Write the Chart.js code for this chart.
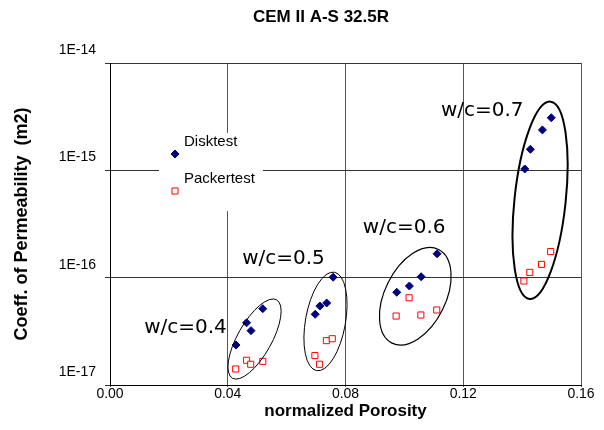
<!DOCTYPE html>
<html>
<head>
<meta charset="utf-8">
<script src="https://cdn.jsdelivr.net/npm/chart.js@4.4.0/dist/chart.umd.min.js"></script>
<style>
  html, body { margin: 0; padding: 0; background: #fff; }
  #wrap { width: 604px; height: 430px; }
</style>
</head>
<body>
<div id="wrap"><canvas id="chart1"></canvas></div>
<script>
"use strict";

// normalized porosity / permeability (m2), four w/c groups of 4 samples
var diskPorosity = [0.0428, 0.0464, 0.0479, 0.0519, 0.0697, 0.0713, 0.0736, 0.0758,
                    0.0974, 0.1017, 0.1057, 0.1111, 0.1409, 0.1428, 0.1469, 0.1499];
var diskPerm = [2.36e-17, 3.80e-17, 3.21e-17, 5.14e-17, 4.56e-17, 5.44e-17, 5.81e-17, 1.01e-16,
                7.31e-17, 8.36e-17, 1.02e-16, 1.67e-16, 1.03e-15, 1.57e-15, 2.38e-15, 3.09e-15];
var packerPorosity = [0.0427, 0.0464, 0.0478, 0.0519, 0.0696, 0.0712, 0.0735, 0.0755,
                      0.0972, 0.1016, 0.1056, 0.1110, 0.1406, 0.1426, 0.1466, 0.1497];
var packerPerm = [1.41e-17, 1.70e-17, 1.56e-17, 1.66e-17, 1.88e-17, 1.56e-17, 2.59e-17, 2.70e-17,
                  4.39e-17, 6.50e-17, 4.49e-17, 5.00e-17, 9.31e-17, 1.12e-16, 1.33e-16, 1.75e-16];

var groupLabels = ['w/c=0.4', 'w/c=0.5', 'w/c=0.6', 'w/c=0.7'];
var yTicks = [1e-17, 1e-16, 1e-15, 1e-14];
var xTicks = [0.00, 0.04, 0.08, 0.12, 0.16];

function toPoints(xs, ys) {
  var pts = [];
  for (var i = 0; i < xs.length; i++) {
    pts.push({ x: xs[i], y: ys[i] });
  }
  return pts;
}

var FONT = "'Liberation Sans', Arial, sans-serif";

// ellipses round each group (centre in data units, radii in px, tilt in deg)
var ellipses = [
  { cx: 0.0491, cy: 2.68e-17, rx: 17, ry: 45, rot: 29.4, lw: 1 },
  { cx: 0.0732, cy: 3.91e-17, rx: 20, ry: 50, rot: 10.2, lw: 1 },
  { cx: 0.1037, cy: 6.71e-17, rx: 30.4, ry: 52.3, rot: 26.4, lw: 1.2 },
  { cx: 0.1461, cy: 5.26e-16, rx: 25.6, ry: 99.2, rot: 6.1, lw: 2 }
];
var labelPos = [
  { x: 0.0116, y: 3.40e-17 },
  { x: 0.0449, y: 1.515e-16 },
  { x: 0.0859, y: 2.90e-16 },
  { x: 0.1124, y: 3.57e-15 }
];

var extras = {
  id: 'extras',
  beforeDatasetsDraw: function(chart) {
    // legend inside the plot, white box over the grid
    var ctx = chart.ctx, a = chart.chartArea;
    var bx = a.left + 49, by = a.top + 70;
    ctx.save();
    ctx.fillStyle = '#fff';
    ctx.fillRect(bx, by, 104, 78);
    ctx.font = '15px ' + FONT;
    ctx.textBaseline = 'middle';
    chart.data.datasets.forEach(function(ds, i) {
      var mx = bx + 16, my = by + 21 + i * 37;
      ctx.fillStyle = ds.backgroundColor;
      ctx.strokeStyle = ds.borderColor;
      ctx.lineWidth = ds.borderWidth;
      ctx.beginPath();
      if (ds.pointStyle === 'rectRot') {
        var r = ds.pointRadius;
        ctx.moveTo(mx - r, my); ctx.lineTo(mx, my - r);
        ctx.lineTo(mx + r, my); ctx.lineTo(mx, my + r);
        ctx.closePath();
      } else {
        var s = ds.pointRadius * Math.SQRT1_2;
        ctx.rect(mx - s, my - s, 2 * s, 2 * s);
      }
      ctx.fill();
      ctx.stroke();
      ctx.fillStyle = '#000';
      ctx.fillText(ds.label, bx + 25, my - 12);
    });
    ctx.restore();
  },
  afterDatasetsDraw: function(chart) {
    var ctx = chart.ctx;
    var xs = chart.scales.x, ys = chart.scales.y;
    ctx.save();
    ctx.strokeStyle = '#000';
    ellipses.forEach(function(e) {
      ctx.lineWidth = e.lw;
      ctx.beginPath();
      ctx.ellipse(xs.getPixelForValue(e.cx), ys.getPixelForValue(e.cy),
        e.rx, e.ry, e.rot * Math.PI / 180, 0, 2 * Math.PI);
      ctx.stroke();
    });
    ctx.font = "20px 'DejaVu Sans', sans-serif";
    ctx.fillStyle = '#000';
    ctx.textBaseline = 'middle';
    ctx.textAlign = 'left';
    groupLabels.forEach(function(t, i) {
      ctx.fillText(t, xs.getPixelForValue(labelPos[i].x), ys.getPixelForValue(labelPos[i].y));
    });
    ctx.restore();
  },
  afterDraw: function(chart) {
    var ctx = chart.ctx;
    ctx.save();
    ctx.font = 'bold 17px ' + FONT;
    ctx.fillStyle = '#000';
    ctx.textAlign = 'center';
    ctx.textBaseline = 'middle';
    ctx.fillText('CEM II A-S 32.5R', 321, 17);
    ctx.restore();
  }
};

var ctx = document.getElementById('chart1').getContext('2d');
new Chart(ctx, {
  type: 'scatter',
  data: {
    datasets: [{
      label: 'Disktest',
      data: toPoints(diskPorosity, diskPerm),
      pointStyle: 'rectRot',
      pointRadius: 4,
      pointHoverRadius: 4,
      backgroundColor: '#000080',
      borderColor: '#000080',
      borderWidth: 1
    }, {
      label: 'Packertest',
      data: toPoints(packerPorosity, packerPerm),
      pointStyle: 'rect',
      pointRadius: 4.3,
      pointHoverRadius: 4.3,
      backgroundColor: '#ffffff',
      borderColor: '#ff0000',
      borderWidth: 1
    }]
  },
  options: {
    responsive: true,
    maintainAspectRatio: false,
    animation: false,
    layout: {
      padding: { left: 0, right: 23, top: 63, bottom: 0 }
    },
    plugins: {
      legend: { display: false },
      title: { display: false },
      tooltip: { enabled: false }
    },
    scales: {
      x: {
        type: 'linear',
        min: 0,
        max: 0.16,
        afterBuildTicks: function(scale) {
          scale.ticks = xTicks.map(function(v) { return { value: v }; });
        },
        afterFit: function(scale) { scale.height = 45; },
        ticks: {
          color: '#000',
          font: { family: FONT, size: 14, lineHeight: 1 },
          padding: 0,
          maxRotation: 0,
          callback: function(v) { return Number(v).toFixed(2); }
        },
        grid: { color: '#555', lineWidth: 1, tickLength: 2, tickColor: '#555' },
        border: { color: '#000', width: 1 },
        title: {
          display: true,
          text: 'normalized Porosity',
          color: '#000',
          font: { family: FONT, size: 17, weight: 'bold' },
          padding: { top: 0, bottom: 8 }
        }
      },
      y: {
        type: 'logarithmic',
        min: 1e-17,
        max: 1e-14,
        afterBuildTicks: function(scale) {
          scale.ticks = yTicks.map(function(v) { return { value: v, major: true }; });
        },
        afterFit: function(scale) { scale.width = 110; },
        ticks: {
          color: '#000',
          font: { family: FONT, size: 14 },
          padding: 9,
          labelOffset: -13,
          callback: function(v) { return '1E' + Math.round(Math.log10(v)); }
        },
        grid: { color: '#333', lineWidth: 1, tickLength: 5, tickColor: '#333' },
        border: { color: '#000', width: 1 },
        title: {
          display: true,
          text: 'Coeff. of Permeability  (m2)',
          color: '#000',
          font: { family: FONT, size: 18, weight: 'bold' },
          padding: { top: 11, bottom: 0 }
        }
      }
    }
  },
  plugins: [extras]
});
</script>
</body>
</html>
